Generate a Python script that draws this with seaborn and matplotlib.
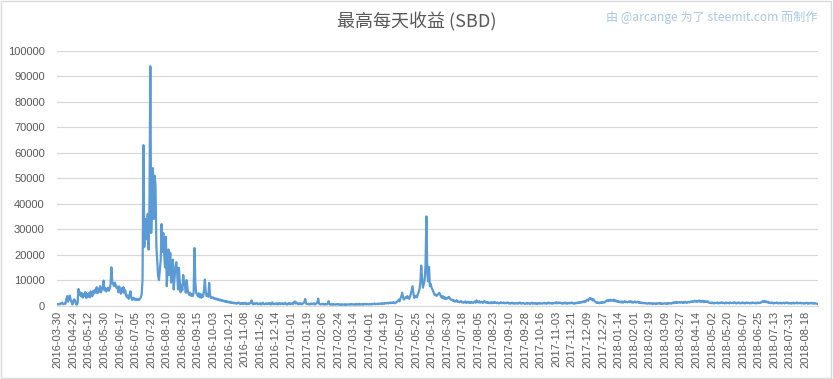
import numpy as np
import pandas as pd
import seaborn as sns
import matplotlib.pyplot as plt
from matplotlib.patches import Rectangle

# 数据 (每天最高收益, SBD) - 按类别顺序
valores = [
    600, 400, 700, 500, 900, 1100, 600, 500, 800, 700,
    2600, 3700, 1500, 3400, 3900, 2200, 1200, 400, 1800, 2400,
    2100, 600, 300, 900, 6500, 4200, 5200, 3600, 4800, 3100,
    4500, 3800, 5300, 2900, 4400, 3500, 4900, 3200, 5500, 4100,
    3600, 5800, 4700, 6200, 5100, 7200, 4800, 6600, 5400, 7600,
    5200, 6400, 7100, 9800, 5900, 6800, 5500, 6300, 7000, 5800,
    6500, 8200, 15000, 9300, 8400, 7600, 9000, 8100, 6900, 7400,
    5200, 7500, 6100, 4600, 6800, 5300, 7200, 4800, 6000, 3900,
    3300, 4000, 2600, 3700, 5600, 3100, 2200, 3000, 2400, 2800,
    2100, 2600, 2300, 2500, 2200, 2700, 3200, 4500, 10000, 63000,
    23000, 34000, 30000, 26000, 36000, 22000, 40000, 94000, 28500, 42000,
    54000, 34000, 51000, 47000, 23000, 17000, 11500, 10000, 14000, 18000,
    32000, 21000, 28500, 20000, 15000, 27000, 7600, 14000, 22000, 12000,
    20700, 9000, 13000, 18000, 6300, 11000, 15000, 17000, 12800, 6300,
    14800, 9500, 5200, 8000, 6000, 12000, 9000, 7600, 5000, 10000,
    6500, 4800, 4200, 5000, 3800, 4500, 3700, 4800, 22600, 9000,
    5000, 4300, 3600, 4800, 3200, 4500, 3000, 4200, 3500, 6000,
    10200, 5500, 3700, 4200, 3400, 8900, 4000, 3000, 3300, 2900,
    3100, 2600, 2800, 2400, 2700, 2200, 2500, 2000, 2300, 1900,
    2100, 1700, 1900, 1500, 1800, 1400, 1600, 1200, 1500, 1100,
    1300, 1000, 1200, 900, 1100, 800, 1000, 700, 900, 1200,
    800, 600, 900, 700, 1000, 600, 800, 1100, 500, 700,
    900, 600, 800, 1200, 2000, 700, 500, 900, 600, 800,
    1000, 500, 700, 600, 900, 400, 800, 1100, 600, 500,
    700, 900, 500, 800, 600, 1000, 400, 700, 1200, 600,
    500, 800, 600, 900, 400, 700, 1000, 500, 800, 600,
    900, 500, 700, 1100, 600, 400, 800, 600, 1000, 500,
    700, 900, 600, 1300, 1600, 800, 1200, 700, 500, 900,
    600, 800, 500, 700, 1000, 1400, 2600, 800, 600, 500,
    700, 400, 600, 800, 500, 700, 900, 400, 600, 800,
    1200, 2700, 700, 500, 400, 600, 500, 700, 300, 500,
    600, 400, 900, 1700, 500, 300, 400, 600, 300, 500,
    400, 300, 500, 400, 600, 300, 400, 200, 500, 300,
    400, 300, 500, 200, 400, 300, 500, 400, 300, 600,
    400, 500, 300, 400, 600, 300, 500, 400, 700, 300,
    500, 400, 600, 300, 500, 700, 400, 600, 500, 400,
    500, 600, 400, 700, 500, 600, 800, 500, 600, 700,
    500, 800, 600, 700, 900, 600, 800, 700, 1000, 800,
    900, 1100, 800, 1000, 1200, 900, 1100, 1000, 1300, 1100,
    900, 1200, 1500, 1800, 2300, 1600, 2800, 3500, 5000, 3200,
    2300, 2800, 3300, 2900, 3700, 3000, 2600, 3400, 4500, 6000,
    7600, 4800, 3000, 3500, 3800, 3200, 4300, 5200, 6500, 9000,
    15700, 11000, 7000, 8500, 10000, 16000, 35000, 12800, 9500, 15200,
    7600, 8500, 7000, 6300, 5500, 4500, 4000, 4300, 3800, 4200,
    4600, 5000, 4200, 3500, 3000, 3700, 2800, 3300, 2500, 3000,
    2700, 3200, 3400, 2900, 2400, 2100, 2300, 1800, 2000, 1500,
    1800, 2100, 1400, 1600, 1300, 1500, 1700, 1200, 1400, 1100,
    1300, 1600, 1000, 1200, 1500, 1100, 1300, 1000, 1400, 1200,
    1000, 1300, 1600, 1100, 2000, 1400, 1200, 1700, 1100, 1300,
    1500, 1000, 1200, 1800, 1300, 1100, 1400, 1000, 1200, 900,
    1100, 1300, 900, 1200, 1000, 1400, 1100, 900, 1200, 1000,
    800, 1100, 1300, 900, 1000, 1200, 800, 1100, 900, 1000,
    1200, 800, 1000, 700, 900, 1100, 800, 1000, 700, 900,
    800, 1000, 700, 900, 1200, 800, 700, 900, 1000, 800,
    600, 800, 1000, 700, 900, 800, 600, 900, 1100, 700,
    800, 1000, 700, 900, 600, 800, 1000, 700, 900, 800,
    700, 900, 1100, 800, 1000, 700, 900, 1200, 800, 1000,
    900, 700, 1000, 800, 1100, 900, 1300, 800, 1000, 1200,
    900, 1100, 800, 1000, 700, 900, 1200, 800, 1000, 700,
    900, 1100, 800, 1000, 1200, 900, 700, 1000, 800, 1100,
    900, 1200, 1000, 1300, 1100, 1400, 1200, 1600, 1300, 1800,
    1500, 2000, 2300, 1900, 2600, 3000, 2400, 2700, 2000, 2500,
    1800, 1500, 1200, 1000, 1300, 1100, 900, 1200, 1000, 1300,
    1100, 1400, 1200, 1600, 1800, 2100, 1700, 2200, 1900, 2300,
    1800, 2000, 2300, 1700, 2100, 1600, 1900, 1400, 1700, 1300,
    1500, 1200, 1600, 1100, 1400, 1700, 1300, 1500, 1200, 1400,
    1600, 1300, 1700, 1200, 1500, 1100, 1400, 1600, 1200, 1300,
    1500, 1100, 1300, 1000, 1200, 900, 1100, 1000, 800, 1000,
    900, 700, 800, 1000, 700, 900, 800, 600, 900, 700,
    800, 600, 900, 700, 800, 1000, 700, 900, 600, 800,
    700, 900, 800, 600, 900, 700, 1000, 800, 900, 700,
    1000, 1200, 900, 1300, 1100, 1400, 1000, 1200, 1300, 1100,
    1400, 1200, 1000, 1300, 1100, 1500, 1200, 1000, 1300, 1400,
    1200, 1500, 1300, 1700, 1400, 1600, 1900, 1500, 1800, 1400,
    1700, 2000, 1500, 1800, 1400, 1600, 1900, 1300, 1700, 1500,
    1400, 1700, 1200, 1000, 1100, 900, 1200, 1000, 800, 1100,
    900, 1000, 1200, 800, 1100, 900, 1000, 1300, 900, 1100,
    1000, 800, 1200, 900, 1100, 1000, 800, 1200, 1000, 900,
    1100, 900, 1300, 1000, 800, 1100, 900, 1200, 1000, 800,
    1000, 1200, 900, 1100, 800, 1000, 1200, 900, 1100, 1000,
    800, 1100, 900, 1200, 1000, 900, 1100, 800, 1000, 1200,
    900, 1100, 1000, 1300, 1500, 1800, 1400, 1700, 1300, 1600,
    1200, 1400, 1000, 1100, 900, 1200, 1000, 800, 1100, 900,
    1000, 1200, 800, 1000, 900, 1100, 800, 1000, 900, 1100,
    800, 1000, 1200, 900, 1100, 800, 1000, 900, 700, 1000,
    1100, 800, 1000, 900, 1200, 800, 1000, 900, 1100, 800,
    1000, 900, 700, 1000, 800, 1100, 900, 700, 1000, 800,
    900, 1100, 800, 700, 1000, 800, 900, 700, 600,
]

# rótulos do eixo x (a cada 18 categorias)
rotulos = [
    '2016-03-30', '2016-04-24', '2016-05-12', '2016-05-30', '2016-06-17',
    '2016-07-05', '2016-07-23', '2016-08-10', '2016-08-28', '2016-09-15',
    '2016-10-03', '2016-10-21', '2016-11-08', '2016-11-26', '2016-12-14',
    '2017-01-01', '2017-01-19', '2017-02-06', '2017-02-24', '2017-03-14',
    '2017-04-01', '2017-04-19', '2017-05-07', '2017-05-25', '2017-06-12',
    '2017-06-30', '2017-07-18', '2017-08-05', '2017-08-23', '2017-09-10',
    '2017-09-28', '2017-10-16', '2017-11-03', '2017-11-21', '2017-12-09',
    '2017-12-27', '2018-01-14', '2018-02-01', '2018-02-19', '2018-03-09',
    '2018-03-27', '2018-04-14', '2018-05-02', '2018-05-20', '2018-06-07',
    '2018-06-25', '2018-07-13', '2018-07-31', '2018-08-18',
]
passo = 18

df = pd.DataFrame({'idx': np.arange(len(valores)), 'sbd': valores})

sns.set_style('white')
plt.rcParams['font.family'] = ['Liberation Sans', 'Noto Sans CJK SC', 'DejaVu Sans']

cinza = '#595959'
fig = plt.figure(figsize=(8.33, 3.79), dpi=100)
ax = fig.add_axes([57.3 / 833, 1 - 305.5 / 379, 760.7 / 833, 254.5 / 379])

sns.lineplot(data=df, x='idx', y='sbd', ax=ax, color='#5B9BD5', linewidth=1.6)

ax.set_xlim(-0.5, len(valores) - 0.5)
ax.set_ylim(0, 100000)
ax.set_yticks(np.arange(0, 100001, 10000))
ax.set_yticklabels([str(v) for v in range(0, 100001, 10000)])
ax.set_xticks(np.arange(0, len(rotulos) * passo, passo))
ax.set_xticklabels(rotulos, rotation=90)
ax.set_xlabel('')
ax.set_ylabel('')
ax.grid(axis='y', color='#d9d9d9', linewidth=0.9)
ax.set_axisbelow(True)
for s in ['left', 'right', 'top']:
    ax.spines[s].set_visible(False)
ax.spines['bottom'].set_color('#d9d9d9')
ax.tick_params(axis='y', length=0, pad=9, labelsize=8, labelcolor=cinza)
ax.tick_params(axis='x', length=0, pad=4, labelsize=8, labelcolor=cinza)

fig.text(0.5, 1 - 22 / 379, '最高每天收益 (SBD)', ha='center', va='center',
         fontsize=13, color=cinza, family=['Noto Sans CJK SC', 'DejaVu Sans'])
fig.text(818 / 833, 1 - 17 / 379, '由 @arcange 为了 steemit.com 而制作', ha='right',
         va='center', fontsize=8.7, color='#a9c8e6',
         family=['Noto Sans CJK SC', 'DejaVu Sans'])

fig.patches.append(Rectangle((0.001, 0.002), 0.997, 0.995, transform=fig.transFigure,
                             fill=False, edgecolor='#d9d9d9', linewidth=1))

fig.savefig('out.png', dpi=100)
